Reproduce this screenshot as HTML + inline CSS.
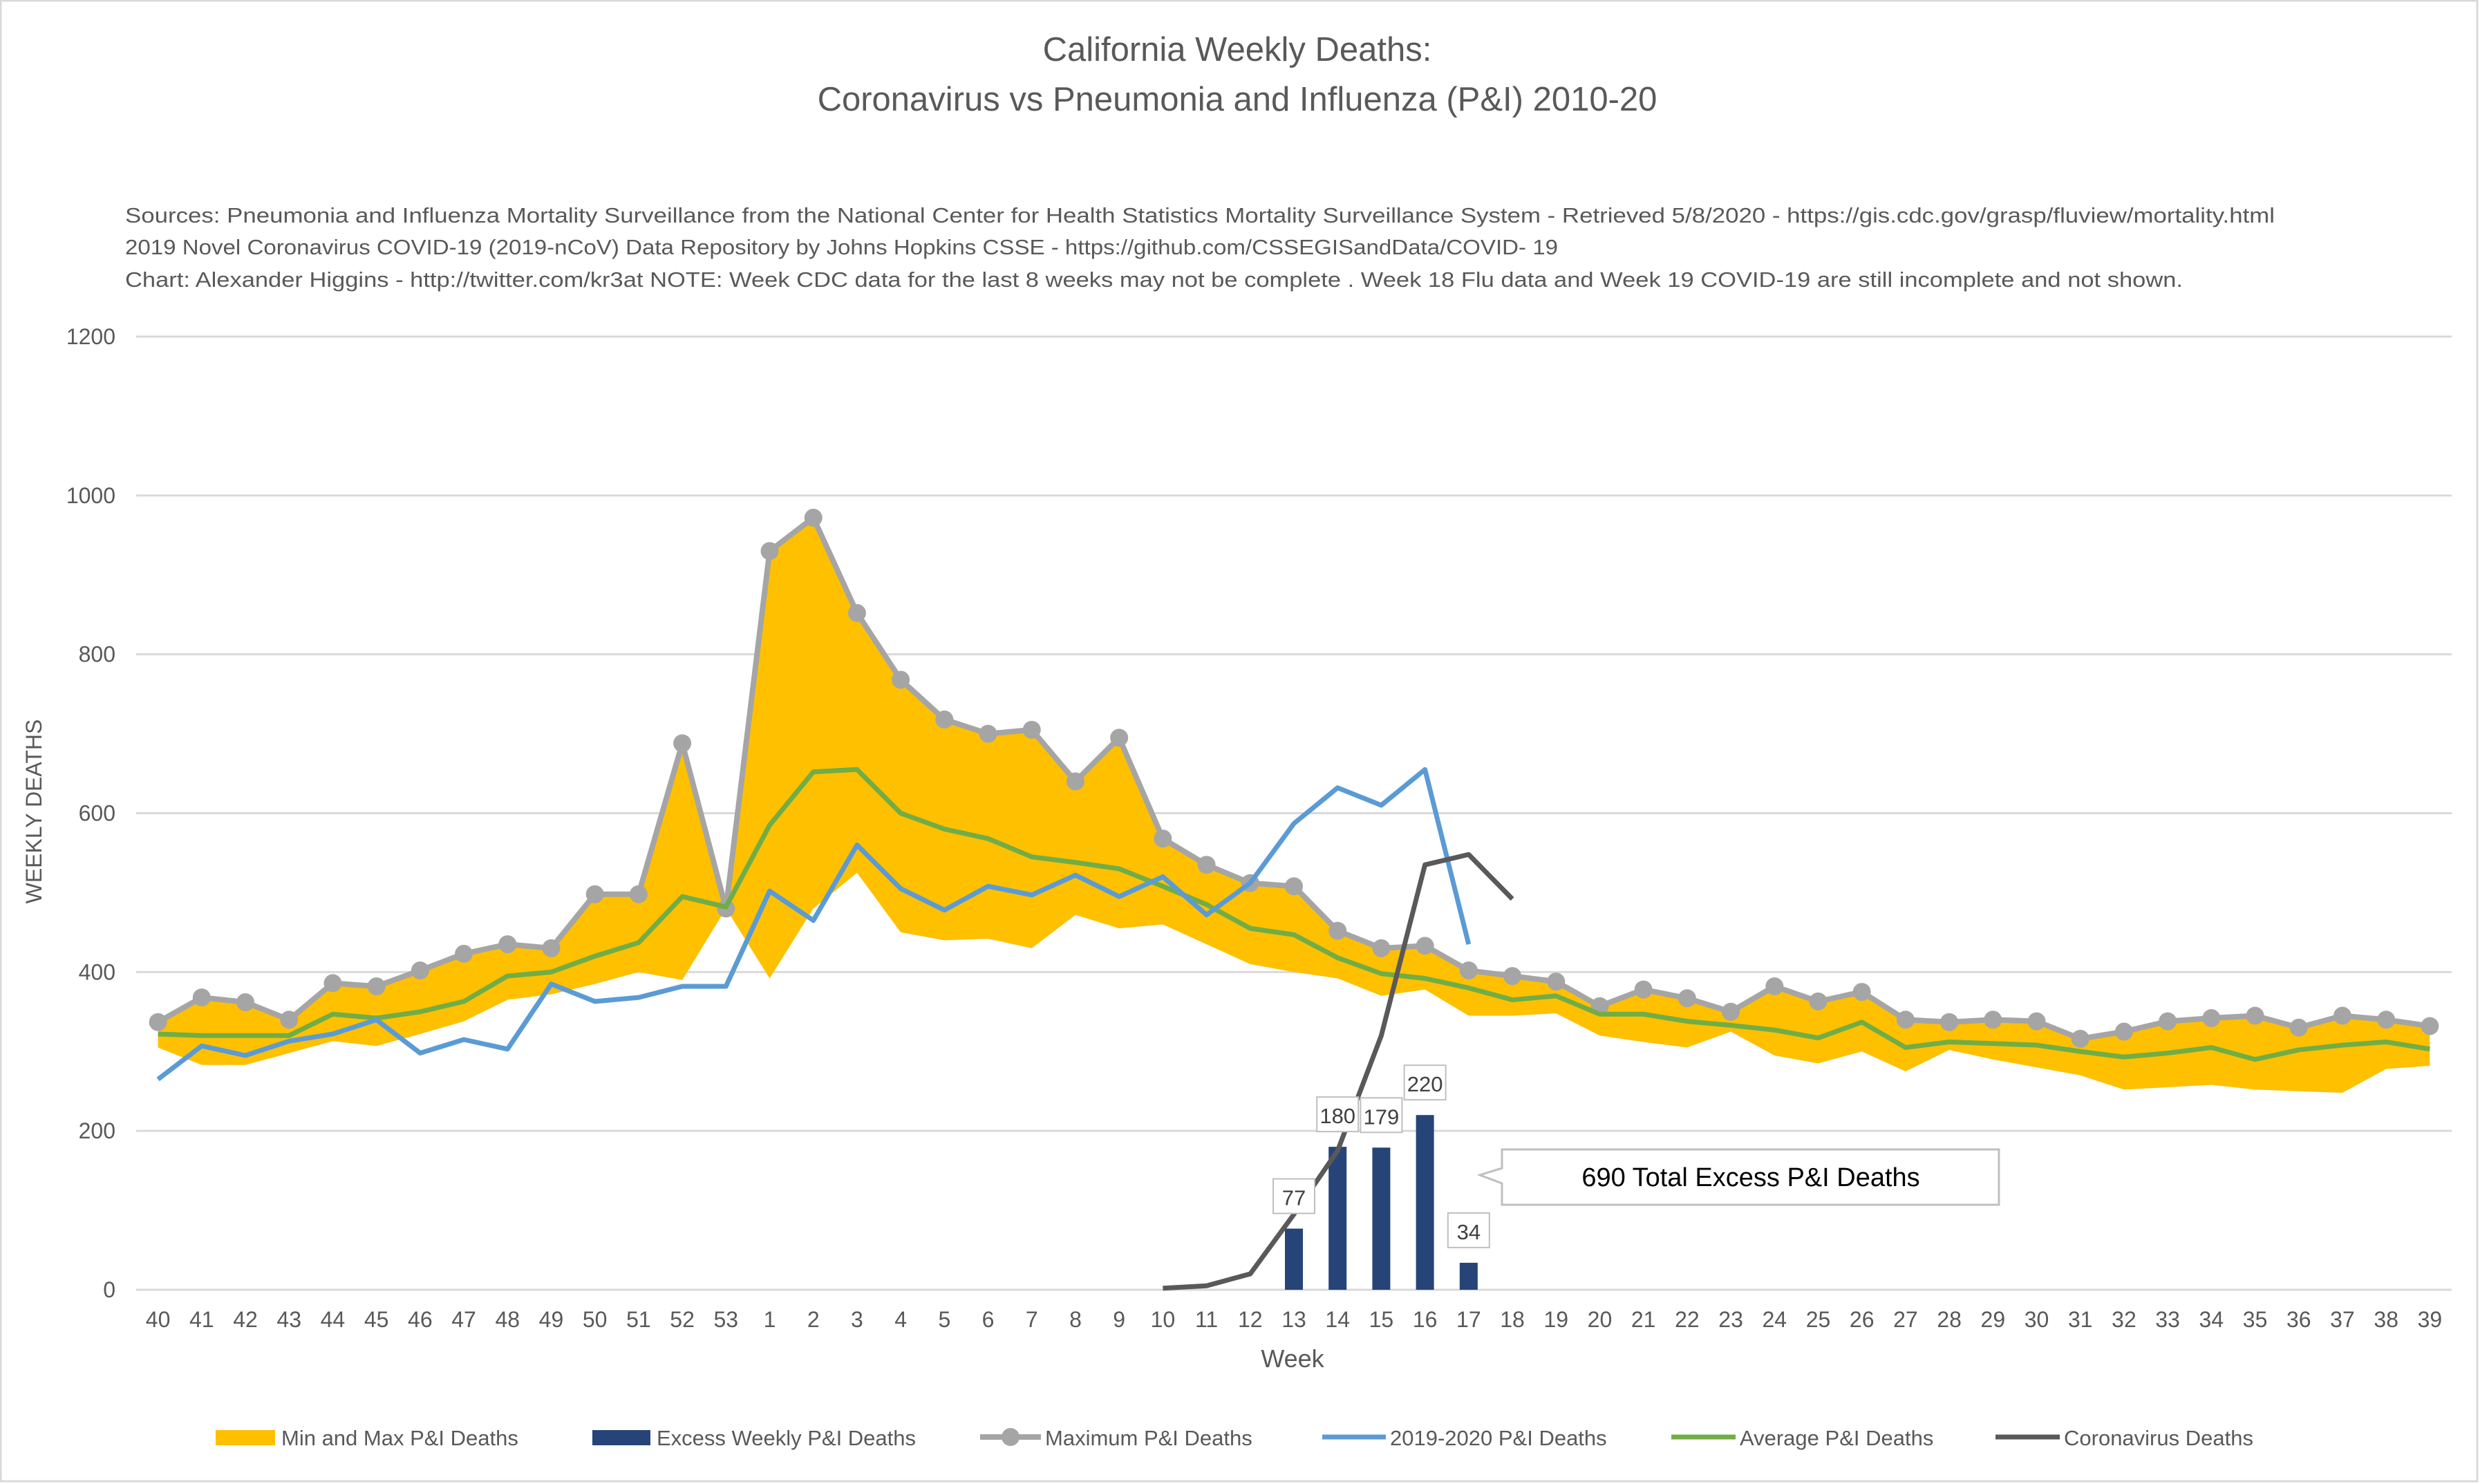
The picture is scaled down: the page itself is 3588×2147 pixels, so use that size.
<!DOCTYPE html>
<html><head><meta charset="utf-8"><style>
html,body{margin:0;padding:0;background:#fff}
svg{display:block;font-family:"Liberation Sans",sans-serif}
</style></head><body>
<svg id="chart" width="3588" height="2147" viewBox="0 0 3588 2147" xmlns="http://www.w3.org/2000/svg">
<rect x="1" y="1" width="3583" height="2142" fill="#fff" stroke="#d9d9d9" stroke-width="3"/>
<text x="1790" y="88" text-anchor="middle" font-size="49" fill="#595959">California Weekly Deaths:</text>
<text x="1790" y="160" text-anchor="middle" font-size="49" fill="#595959">Coronavirus vs Pneumonia and Influenza (P&amp;I) 2010-20</text>
<g font-size="31" fill="#595959">
<text x="181" y="322" textLength="3110" lengthAdjust="spacingAndGlyphs">Sources: Pneumonia and Influenza Mortality Surveillance from the National Center for Health Statistics Mortality Surveillance System - Retrieved 5/8/2020 - https://gis.cdc.gov/grasp/fluview/mortality.html</text>
<text x="181" y="368" textLength="2073" lengthAdjust="spacingAndGlyphs">2019 Novel Coronavirus COVID-19 (2019-nCoV) Data Repository by Johns Hopkins CSSE - https://github.com/CSSEGISandData/COVID- 19</text>
<text x="181" y="415" textLength="2977" lengthAdjust="spacingAndGlyphs">Chart: Alexander Higgins - http://twitter.com/kr3at   NOTE: Week CDC data for the last 8 weeks may not be complete . Week 18 Flu data and Week 19 COVID-19 are still incomplete and not shown.</text>
</g>
<g id="grid"></g>
<g id="marks"></g>
<g id="axes"></g>
<text transform="translate(60,1174) rotate(-90)" text-anchor="middle" font-size="32" fill="#595959">WEEKLY DEATHS</text>
<text x="1870" y="1978" text-anchor="middle" font-size="36" fill="#595959">Week</text>
<g>
<path d="M2173,1663 L2892,1663 L2892,1743 L2173,1743 L2173,1712 L2141,1700 L2173,1690 Z" fill="#fff" stroke="#bfbfbf" stroke-width="3"/>
<text x="2533" y="1716" text-anchor="middle" font-size="38" fill="#000">690 Total Excess P&amp;I Deaths</text>
</g>
<g id="legend" font-size="31" fill="#595959">
<rect x="312" y="2069" width="86" height="22" fill="#ffc000"/>
<text x="407" y="2091" fill="#595959">Min and Max P&amp;I Deaths</text>
<rect x="857" y="2069" width="84" height="22" fill="#264478"/>
<text x="950" y="2091" fill="#595959">Excess Weekly P&amp;I Deaths</text>
<line x1="1418" y1="2079" x2="1506" y2="2079" stroke="#a5a5a5" stroke-width="8"/>
<circle cx="1462" cy="2079" r="13" fill="#a5a5a5"/>
<text x="1512" y="2091" fill="#595959">Maximum P&amp;I Deaths</text>
<line x1="1913" y1="2079" x2="2005" y2="2079" stroke="#5b9bd5" stroke-width="7"/>
<text x="2011" y="2091" fill="#595959">2019-2020 P&amp;I Deaths</text>
<line x1="2418" y1="2079" x2="2511" y2="2079" stroke="#70ad47" stroke-width="7"/>
<text x="2517" y="2091" fill="#595959">Average P&amp;I Deaths</text>
<line x1="2887" y1="2079" x2="2980" y2="2079" stroke="#595959" stroke-width="7"/>
<text x="2986" y="2091" fill="#595959">Coronavirus Deaths</text>
</g>
</svg>
<script>
const weeks = [40,41,42,43,44,45,46,47,48,49,50,51,52,53,1,2,3,4,5,6,7,8,9,10,11,12,13,14,15,16,17,18,19,20,21,22,23,24,25,26,27,28,29,30,31,32,33,34,35,36,37,38,39];
const maxDeaths = [337,368,362,340,386,382,402,423,435,430,498,498,688,480,930,972,852,768,718,700,705,640,695,568,535,512,508,452,430,433,402,395,388,357,378,367,350,382,363,375,340,337,340,338,316,325,338,342,345,330,345,340,332];
const minDeaths = [305,283,283,298,313,307,322,338,365,372,385,400,390,480,392,480,525,450,440,442,430,472,455,460,435,410,400,392,370,378,345,345,348,320,312,305,325,295,285,300,275,302,290,280,270,252,255,258,252,250,248,278,282];
const avgDeaths = [322,320,320,320,347,342,350,363,395,400,420,437,495,482,585,652,655,600,580,568,545,538,530,508,485,455,447,418,398,392,380,365,370,347,347,338,333,327,317,337,305,312,310,308,300,293,298,305,290,302,308,312,303];
const season2019 = [265,307,295,313,322,340,298,315,303,385,363,368,382,382,502,465,560,505,478,508,497,522,495,520,472,512,587,632,610,655,435];
const covidWeeks = [10,11,12,13,14,15,16,17,18];
const covidDeaths = [2,5,20,95,175,320,535,548,492];
const excessWeeks = [13,14,15,16,17];
const excessDeaths = [77,180,179,220,34];
const yTicks = [0,200,400,600,800,1000,1200];

const NS='http://www.w3.org/2000/svg';
const X0=197, X1=3547, Y0=1866, Y1=487, YMAX=1200;
const band=(X1-X0)/weeks.length;
function x(i){return X0+band*(i+0.5);}
function xw(w){return x(weeks.indexOf(w));}
function y(v){return Y0-(Y0-Y1)*v/YMAX;}
function mk(tag,attrs,parent){const e=document.createElementNS(NS,tag);for(const k in attrs)e.setAttribute(k,attrs[k]);parent.appendChild(e);return e;}
const grid=document.getElementById('grid'), marks=document.getElementById('marks'), axes=document.getElementById('axes');

yTicks.forEach(t=>{
  const g=mk('line',{x1:X0,x2:X1,y1:y(t),y2:y(t),stroke:'#d9d9d9','stroke-width':3},grid);
  
  
  const l=mk('text',{x:167,y:y(t)+11,'text-anchor':'end','font-size':32,fill:'#595959'},axes);
  l.textContent=t;
  
  
});
weeks.forEach((w,i)=>{
  const l=mk('text',{x:x(i),y:1920,'text-anchor':'middle','font-size':32,fill:'#595959'},axes);
  l.textContent=w;
  
  
});

let d='M'+maxDeaths.map((v,i)=>x(i)+','+y(v)).join(' L');
for(let i=minDeaths.length-1;i>=0;i--) d+=' L'+x(i)+','+y(minDeaths[i]);
d+='Z';
const area=mk('path',{d:d,fill:'#ffc000'},marks);



excessWeeks.forEach((w,k)=>{
  const cx=xw(w), v=excessDeaths[k], bw=26;
  const b=mk('rect',{x:cx-bw/2,y:y(v),width:bw,height:Y0-y(v),fill:'#264478'},marks);
  
  
});

function line(vals,xs,color,w,name){
  const p=mk('polyline',{points:vals.map((v,i)=>xs(i)+','+y(v)).join(' '),fill:'none',stroke:color,'stroke-width':w,'stroke-linejoin':'round'},marks);
  
  
}
line(maxDeaths,x,'#a5a5a5',8,'max-line');
maxDeaths.forEach((v,i)=>{
  const c=mk('circle',{cx:x(i),cy:y(v),r:13,fill:'#a5a5a5'},marks);
  
  
});
line(avgDeaths,x,'#70ad47',7,'average-line');
line(season2019,x,'#5b9bd5',7,'season-2019-line');
line(covidDeaths,i=>xw(covidWeeks[i]),'#595959',7,'coronavirus-line');

excessWeeks.forEach((w,k)=>{
  const cx=xw(w), v=excessDeaths[k], ty=y(v)-34;
  const r=mk('rect',{x:cx-30,y:ty-38,width:60,height:50,fill:'#fff',stroke:'#bfbfbf','stroke-width':2},marks);
  
  
  const t=mk('text',{x:cx,y:ty,'text-anchor':'middle','font-size':31,fill:'#404040'},marks);
  t.textContent=v;
  
  
});
</script>
</body></html>
